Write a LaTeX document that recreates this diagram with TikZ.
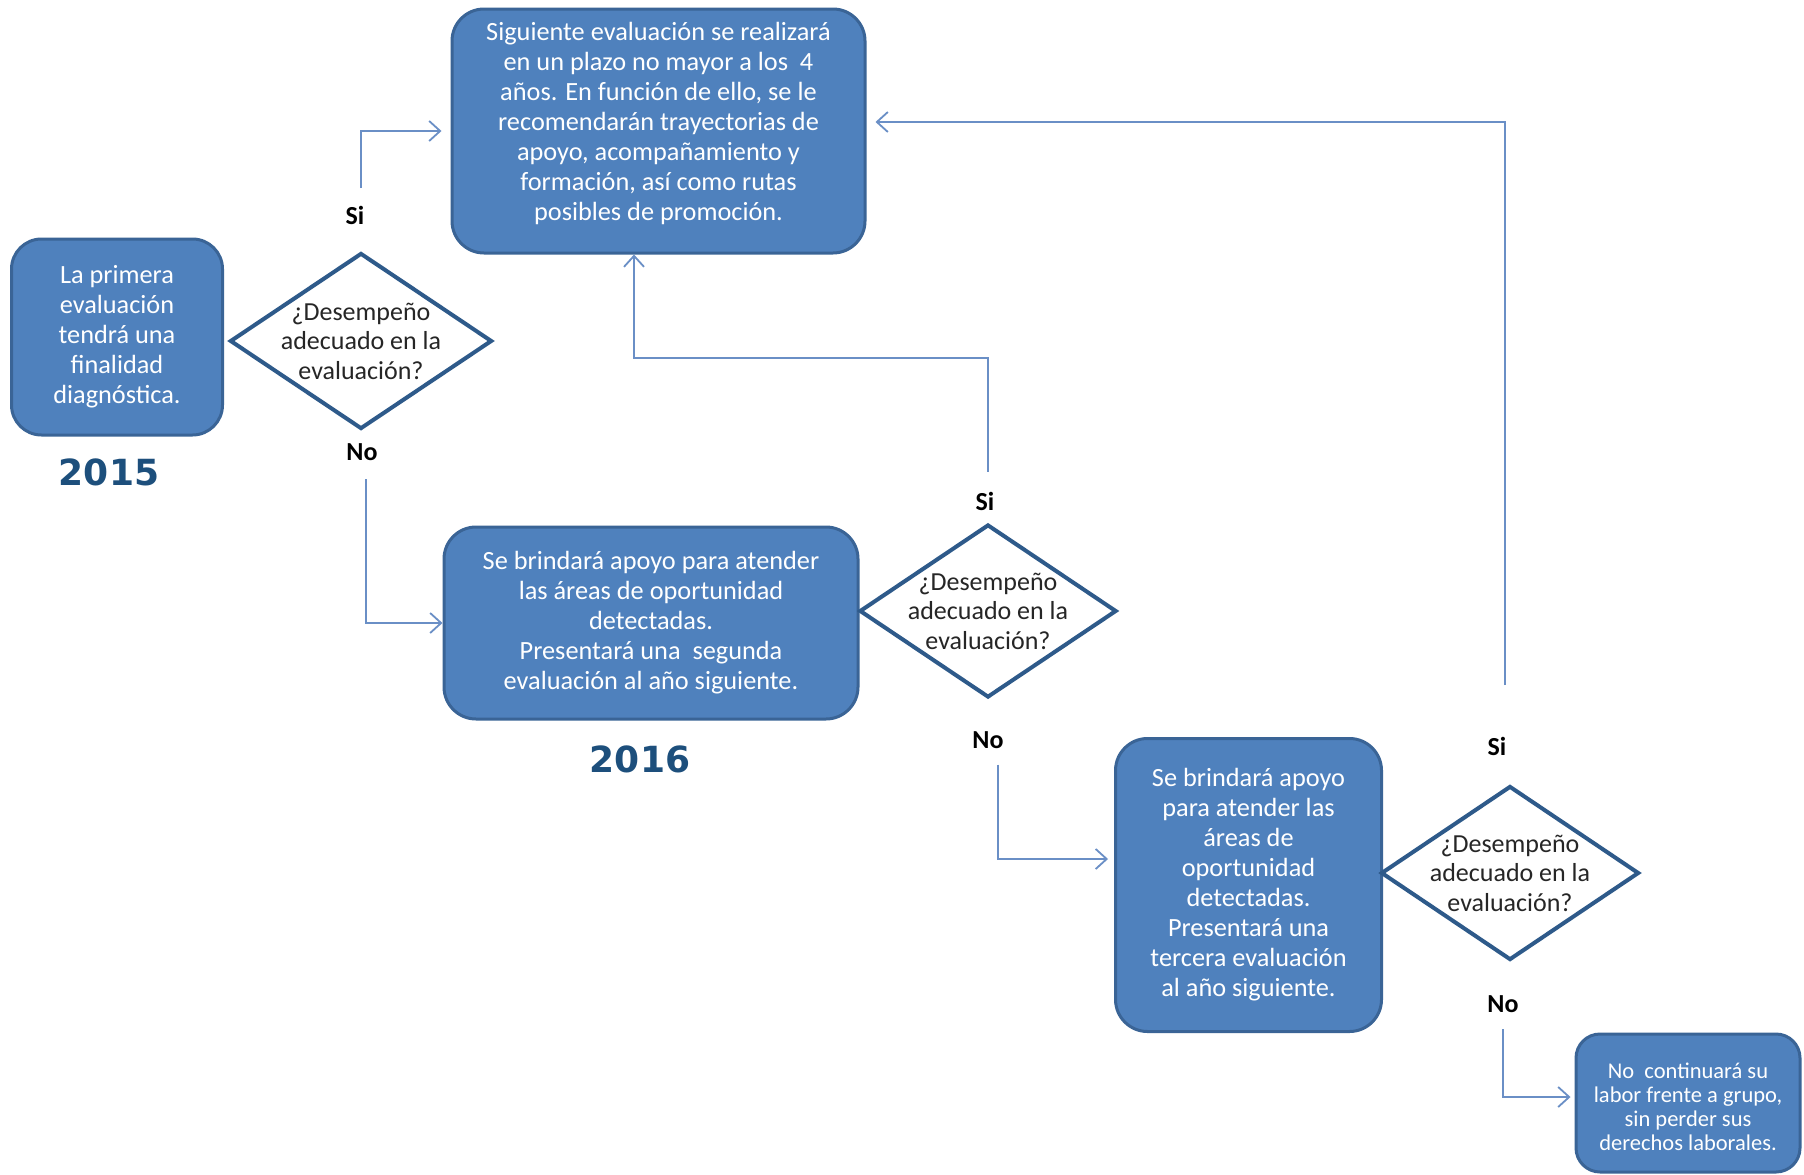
\documentclass[tikz,border=0pt]{standalone}
\usepackage{fontspec}
\setmainfont{Carlito}
\newfontfamily\yearfont{DejaVu Sans}
\usetikzlibrary{shapes.geometric,arrows.meta}
\definecolor{boxfill}{HTML}{4F81BD}
\definecolor{boxline}{HTML}{3A6496}
\definecolor{diaLine}{HTML}{2E5A8A}
\definecolor{connc}{HTML}{6A8FC6}
\definecolor{yearc}{HTML}{1D4F7C}
\begin{document}
\begin{tikzpicture}[x=1pt,y=-1pt,
 bbox/.style={draw=boxline, line width=3pt, fill=boxfill, rounded corners=32pt, text=white, align=center, inner sep=0pt, font=\fontsize{26.3}{30}\selectfont},
 btext/.style={text=white, align=center, inner sep=0pt, font=\fontsize{26.3}{30}\selectfont},
 dia/.style={diamond, draw=diaLine, line width=4pt, fill=white, inner sep=0pt},
 diatext/.style={align=center, font=\fontsize{26}{29.5}\selectfont, text=black!85},
 lbl/.style={font=\bfseries\fontsize{26}{30}\selectfont},
 yearlbl/.style={font=\yearfont\bfseries\fontsize{36}{42}\selectfont, text=yearc},
 conn/.style={draw=connc, line width=2pt, -{Straight Barb[length=11pt,width=20pt,line width=1.8pt]}}
]
\useasboundingbox[fill=white] (0,0) rectangle (1804,1175);

\node[bbox, minimum width=211pt, minimum height=196pt, rounded corners=30pt] (A) at (117,337) {La primera\\evaluación\\tendrá una\\finalidad\\diagnóstica.};
\node[dia, minimum width=262pt, minimum height=176pt] (D1) at (361,341) {};
\node[diatext] (D1t) at (D1) {¿Desempeño\\adecuado en la\\evaluación?};
\node[yearlbl] (y15) at (109,472) {2015};

\node[bbox, minimum width=413pt, minimum height=244pt] (T) at (658.5,131) {};
\node[btext] (Tt) at ([yshift=8pt]T.center) {Siguiente evaluación se realizará\\en un plazo no mayor a los~ 4\\años. En función de ello, se le\\recomendarán trayectorias de\\apoyo, acompañamiento y\\formación, así como rutas\\posibles de promoción.};

\node[bbox, minimum width=414pt, minimum height=192pt] (B2) at (651,623) {Se brindará apoyo para atender\\las áreas de oportunidad\\detectadas.\\Presentará una~ segunda\\evaluación al año siguiente.};
\node[yearlbl] (y16) at (640,759) {2016};
\node[dia, minimum width=257pt, minimum height=173pt] (D2) at (988,611) {};
\node[diatext] (D2t) at (D2) {¿Desempeño\\adecuado en la\\evaluación?};

\node[bbox, minimum width=266pt, minimum height=293pt] (B3) at (1248.5,885) {Se brindará apoyo\\para atender las\\áreas de\\oportunidad\\detectadas.\\Presentará una\\tercera evaluación\\al año siguiente.};
\node[dia, minimum width=258pt, minimum height=174pt] (D3) at (1510,873) {};
\node[diatext] (D3t) at (D3) {¿Desempeño\\adecuado en la\\evaluación?};

\node[bbox, minimum width=224pt, minimum height=138pt, rounded corners=24pt] (B4) at (1688,1103) {};
\node[btext, font=\fontsize{22.5}{24}\selectfont] (B4t) at ([yshift=-4pt]B4.center) {No~ continuará su\\labor frente a grupo,\\sin perder sus\\derechos laborales.};

\node[lbl] (si1) at (355,215) {Si};
\node[lbl] (no1) at (362,452) {No};
\node[lbl] (si2) at (985,501) {Si};
\node[lbl] (no2) at (988,740) {No};
\node[lbl] (si3) at (1497,746) {Si};
\node[lbl] (no3) at (1503,1004) {No};

\draw[conn] ([yshift=63pt]D1.north) |- ([xshift=-9pt]T.west);
\draw[conn] ([xshift=5pt,yshift=-48pt]D1.south) |- (B2.west);
\draw[conn] ([yshift=51pt]D2.north) -- ++(0,-114) -| ([xshift=-24.5pt]T.south);
\draw[conn] ([xshift=10pt,yshift=-65pt]D2.south) |- ([xshift=-6pt,yshift=26pt]B3.west);
\draw[conn] ([xshift=-5pt,yshift=99pt]D3.north) |- ([xshift=9pt,yshift=9pt]T.east);
\draw[conn] ([xshift=-7pt,yshift=-67pt]D3.south) |- ([xshift=-4pt,yshift=6pt]B4.west);
\end{tikzpicture}
\end{document}
